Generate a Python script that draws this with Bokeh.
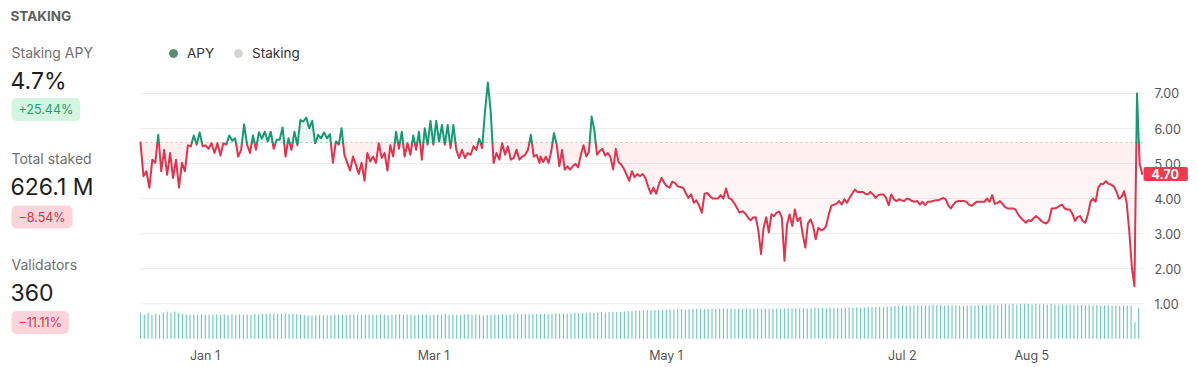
import numpy as np
import pandas as pd
from bokeh.plotting import figure
from bokeh.models import ColumnDataSource, Range1d, Label, Legend, LegendItem
from bokeh.core.properties import value
from bokeh.embed import file_html
from bokeh.resources import INLINE

FONT = "Inter"
GREEN = "#169a72"
RED = "#e3324c"
DAY = 86400000.0

# ---------------- data ----------------
apy_seg1 = [5.60, 4.64, 4.78, 4.31, 5.11, 5.02, 5.82, 4.78, 5.39, 4.68,
            5.30, 4.59, 5.11, 4.31, 5.02, 4.78, 5.52, 5.49, 5.80, 5.54,
            5.89, 5.49, 5.52, 5.42, 5.58, 5.30, 5.58, 5.23, 5.58, 5.54,
            5.80, 5.65, 5.72, 5.20, 5.39, 6.12, 5.54, 5.30, 5.80, 5.39,
            5.89, 5.71, 5.91, 5.63, 5.91, 5.42, 5.68, 5.68, 6.03, 5.20,
            5.72, 5.39, 5.91, 5.52, 6.24, 6.20, 6.31, 6.01, 6.22, 5.58,
            5.82, 5.72, 5.89, 5.72, 5.84, 5.02, 5.63, 5.54]
apy_seg2 = [6.01, 5.25, 5.02, 4.80, 5.20, 4.97, 4.70, 5.02, 4.51, 5.30,
            5.06, 5.20, 5.02, 5.58, 5.16, 5.30, 4.80, 5.52, 5.20, 5.91,
            5.42, 5.91, 5.20, 5.58, 5.25, 5.80, 5.39, 5.91, 5.11, 6.01,
            5.54, 6.22, 5.54, 6.22, 5.63, 6.10, 5.54, 6.10, 5.44, 6.10,
            5.39, 5.16, 5.39, 5.16, 5.30, 5.25, 5.49, 5.39, 5.71, 5.44,
            6.48, 7.31, 6.48, 5.02, 5.30, 5.11, 5.58, 5.25, 5.49, 5.11,
            5.16, 5.39, 5.11, 5.20, 5.25, 5.39, 5.82, 5.20, 5.25, 5.02]
apy_seg3 = [5.20, 5.04, 5.20, 5.02, 5.35, 5.87, 5.54, 4.92, 5.39, 4.83,
            4.92, 4.83, 4.92, 4.99, 4.89, 5.25, 5.52, 5.20, 5.33, 6.34,
            5.96, 5.25, 5.36, 5.42, 5.23, 5.30, 5.18, 4.83, 5.42, 5.04,
            4.97, 4.85, 4.68, 4.51, 4.78, 4.61, 4.70, 4.64, 4.70, 4.59,
            4.35, 4.14, 4.31, 4.14, 4.40, 4.59, 4.45, 4.35, 4.31, 4.48,
            4.45, 4.35, 4.33, 4.31, 4.16, 4.02, 4.12, 3.88, 3.95, 3.79,
            3.60, 4.14, 4.16, 4.07, 4.00, 4.00, 4.00, 4.10, 4.00, 4.29,
            4.02, 3.98, 3.88, 3.74, 3.60]
apy_seg4 = [3.64, 3.57, 3.46, 3.38, 3.46, 3.47, 3.08, 2.42, 3.17, 3.47,
            3.03, 3.55, 3.50, 3.60, 3.63, 3.46, 2.23, 3.27, 3.55, 3.22,
            3.69, 3.36, 3.46, 2.98, 2.60, 3.29, 3.41, 3.22, 2.84, 3.17,
            3.10, 3.12, 3.22, 3.55, 3.79, 3.83, 3.85, 3.93, 3.83, 3.98,
            3.88, 4.02, 4.14, 4.26, 4.19, 4.19, 4.19, 4.14, 4.12, 4.19,
            4.12, 4.02, 4.10, 4.12, 4.12, 4.02, 3.81, 4.12, 3.98, 3.93,
            3.98, 3.95, 3.93, 4.00, 3.98, 3.93, 3.91, 3.93, 3.83, 3.91,
            3.81, 3.91, 3.91, 3.93, 3.95, 3.95]
apy_seg5 = [3.98, 4.02, 3.98, 3.81, 3.72, 3.83, 3.91, 3.93, 3.93, 3.93,
            3.91, 3.83, 3.79, 3.85, 3.91, 3.91, 3.91, 3.91, 4.00, 3.91,
            4.10, 3.85, 3.88, 3.93, 3.85, 3.76, 3.72, 3.72, 3.72, 3.69,
            3.55, 3.46, 3.38, 3.31, 3.38, 3.36, 3.44, 3.50, 3.44, 3.36,
            3.31, 3.29, 3.38, 3.72, 3.72, 3.74, 3.79, 3.83, 3.72, 3.69,
            3.69, 3.57, 3.36, 3.47, 3.50, 3.36, 3.31, 3.55, 3.91, 4.00,
            3.91, 4.31, 4.42, 4.42, 4.50, 4.42, 4.40, 4.35, 4.21, 4.00,
            4.04, 4.21, 3.88, 3.08, 2.04, 1.50, 7.00, 5.00, 4.70]

apy_periods = [
    ("2023-12-15 01:40", "2024-02-05 03:00", apy_seg1),
    ("2024-02-05 20:00", "2024-03-28 19:00", apy_seg2),
    ("2024-03-29 01:30", "2024-05-20 07:00", apy_seg3),
    ("2024-05-21 03:30", "2024-07-11 10:30", apy_seg4),
    ("2024-07-12 01:00", "2024-09-02 23:30", apy_seg5),
]

# total staked (M), one bar per day
staked = [523, 483, 523, 483, 503, 483, 523, 550, 523, 550, 523, 497, 490, 483, 490, 483, 490, 483, 487, 483,
          490, 483, 490, 483, 497, 483, 490, 483, 490, 490, 497, 490, 503, 497, 510, 503, 510, 503, 510, 497,
          503, 497, 490, 476, 470, 463, 470, 476, 476, 470, 476, 483, 490,
          483, 476, 483, 490, 483, 476, 483, 490, 483, 483, 490, 483, 476, 483, 490, 497, 483, 490, 483, 476,
          483, 490, 483, 476, 483, 490, 483, 497, 483, 490, 483, 483, 490, 497, 483, 490, 483, 476, 483, 483,
          490, 483, 497, 483, 490, 497, 503, 497, 510, 503, 497, 503, 497,
          503, 497, 503, 510, 503, 510, 503, 510, 517, 523, 517, 523, 530, 523, 530, 537, 530, 537, 543, 537,
          543, 550, 557, 563, 570, 563, 570, 577, 570, 577, 583, 577, 583, 590, 583, 590, 597, 590, 597, 604,
          597, 604, 597, 604, 611, 604, 604, 611, 604, 611, 604, 611,
          604, 611, 604, 604, 611, 604, 611, 604, 604, 611, 604, 611, 617, 611, 617, 611, 617, 611, 617, 624,
          617, 624, 617, 624, 617, 624, 617, 624, 631, 624, 631, 624, 631, 637, 631, 637, 644, 637, 644, 651,
          658, 664, 671, 664, 671, 677, 671, 677, 671, 677, 684, 677,
          677, 671, 677, 671, 677, 671, 664, 671, 677, 671, 677, 684, 677, 684, 691, 684, 691, 698, 691, 698,
          691, 698, 704, 698, 691, 698, 691, 698, 691, 698, 691, 684, 691, 684, 691, 684, 677, 684, 677, 684,
          671, 677, 671, 677, 671, 664, 671, 664, 671, 664, 658, 335, 626]
staked_start = "2023-12-15 01:40"

x_tick_dates = ["2024-01-01", "2024-03-01", "2024-05-01", "2024-07-02", "2024-08-05"]
y_ticks = [1, 2, 3, 4, 5, 6, 7]

stats = [("Staking APY", "4.7%", "+25.44%", True),
         ("Total staked", "626.1 M", "\u22128.54%", False),
         ("Validators", "360", "\u221211.11%", False)]

# ---------------- layout constants (pixels) ----------------
W, H = 1197, 367
CH_LEFT, CH_RIGHT = 140, 1143      # chart area, horizontal
ZERO_Y = 338.3                      # pixel row of value 0
PX_PER_UNIT = 35.05                 # APY scale
PX_PER_DAY = 3.81
PX_PER_M = 34.0 / 684.0             # staking bar scale

# ---------------- build series ----------------
dates, apy = [], []
for s, e, vals in apy_periods:
    dates.extend(pd.date_range(s, e, periods=len(vals)))
    apy.extend(vals)
x = np.array([d.value / 1e6 for d in dates])
y = np.array(apy, dtype=float)
base = y[0]

sdates = pd.date_range(staked_start, periods=len(staked), freq="D")
sx = np.array([d.value / 1e6 for d in sdates])

MS_PER_PX = DAY / PX_PER_DAY
x_start = x[0] - CH_LEFT * MS_PER_PX
x_end = x_start + W * MS_PER_PX
x_chart_end = x[0] + (CH_RIGHT - CH_LEFT) * MS_PER_PX

# densify with crossing points of the baseline
dx, dy = [x[0]], [y[0]]
for i in range(1, len(y)):
    y0, y1 = y[i - 1], y[i]
    if (y0 - base) * (y1 - base) < 0:
        t = (base - y0) / (y1 - y0)
        dx.append(x[i - 1] + t * (x[i] - x[i - 1]))
        dy.append(base)
    dx.append(x[i])
    dy.append(y1)
dx = np.array(dx)
dy = np.array(dy)

runs = {"up": ([], []), "down": ([], [])}
cur, cx, cy = None, [], []
for i in range(1, len(dx)):
    side = "up" if (dy[i - 1] + dy[i]) / 2 > base else "down"
    if side != cur:
        if cur is not None:
            runs[cur][0].append(cx)
            runs[cur][1].append(cy)
        cur, cx, cy = side, [dx[i - 1]], [dy[i - 1]]
    cx.append(dx[i])
    cy.append(dy[i])
runs[cur][0].append(cx)
runs[cur][1].append(cy)

# ---------------- figure ----------------
p = figure(width=W, height=H, x_axis_type=None, y_axis_type=None,
           x_range=Range1d(x_start, x_end),
           y_range=Range1d(-(H - ZERO_Y) / PX_PER_UNIT, ZERO_Y / PX_PER_UNIT),
           output_backend="svg", toolbar_location=None,
           min_border=0, min_border_left=0, min_border_right=0,
           min_border_top=0, min_border_bottom=0)
p.outline_line_color = None
p.background_fill_color = "white"
p.border_fill_color = "white"
p.grid.visible = False
p.extra_y_ranges = {"stake": Range1d(-(H - ZERO_Y) / PX_PER_M, ZERO_Y / PX_PER_M)}

# gridlines
p.segment(x0=x[0], x1=x_chart_end, y0=y_ticks, y1=y_ticks, line_color="#ececec", line_width=1)

# bars (staking)
p.vbar(x=sx, top=staked, bottom=0, width=0.3 * DAY, y_range_name="stake",
       fill_color="#6ccab9", line_color=None)

# gradient-like fills
below = np.minimum(dy, base)
for k in range(1, 9):
    p.varea(x=dx, y1=np.maximum(below, base - 0.4 * k), y2=base,
            fill_color=RED, fill_alpha=0.013)
above = np.maximum(dy, base)
for k in range(1, 5):
    p.varea(x=dx, y1=np.minimum(above, base + 0.3 * k), y2=base,
            fill_color=GREEN, fill_alpha=0.022)

# dotted reference line (first value)
p.segment(x0=x[0], x1=x_chart_end, y0=base, y1=base, line_color="#c2c2c2",
          line_dash="2 3", line_width=1)

p.multi_line(xs=runs["down"][0], ys=runs["down"][1], line_color=RED, line_width=2,
             line_join="round", line_cap="round")
p.multi_line(xs=runs["up"][0], ys=runs["up"][1], line_color=GREEN, line_width=2,
             line_join="round", line_cap="round")

# y tick labels (right)
p.text(x=[x_chart_end] * len(y_ticks), y=y_ticks, text=[f"{t:.2f}" for t in y_ticks],
       x_offset=11, text_align="left", text_baseline="middle",
       text_font=value(FONT), text_font_size="12.5px", text_color="#555555")

# x tick labels
xt = [pd.Timestamp(d).value / 1e6 for d in x_tick_dates]
xl = [pd.Timestamp(d).strftime("%b ") + str(pd.Timestamp(d).day) for d in x_tick_dates]
p.text(x=xt, y=[0] * len(xt), text=xl, y_offset=17, text_align="center",
       text_baseline="middle", text_font=value(FONT), text_font_size="12.5px",
       text_color="#555555")

# legend: size-0 markers on the latest points, so only the legend swatch is seen
r_apy = p.scatter(x=[x[-1]], y=[y[-1]], size=0, color="#5b8b75")
r_stk = p.scatter(x=[sx[-1]], y=[staked[-1]], size=0, color="#d3d3d3", y_range_name="stake")
legend = Legend(items=[LegendItem(label="APY", renderers=[r_apy]),
                       LegendItem(label="Staking", renderers=[r_stk])],
                location=(163, H - 63), orientation="horizontal",
                glyph_width=20, glyph_height=20, label_height=20,
                label_standoff=4, spacing=14, padding=0, margin=0,
                border_line_alpha=0, background_fill_alpha=0,
                label_text_font=FONT, label_text_font_size="13.5px",
                label_text_color="#333333")
p.add_layout(legend)


# left panel text (screen units, origin bottom-left of canvas)
def lab(text, px, py, size, color, style="normal", **kw):
    p.add_layout(Label(x=px, y=H - py, x_units="screen", y_units="screen",
                       text=text, text_font=FONT, text_font_size=size, text_color=color,
                       text_font_style=style, text_align="left", text_baseline="middle", **kw))


lab("STAKING", 10, 15.5, "13.5px", "#5f5f5f", "bold")
rows_y = [(52, 80, 109), (158, 186, 216.5), (264, 292, 322)]
for (title, big, badge, pos), (ty, by, gy) in zip(stats, rows_y):
    lab(title, 11, ty, "14px", "#707070")
    lab(big, 10, by, "23px", "#1e1e1e")
    lab(badge, 11, gy, "12.5px", "#1fa267" if pos else "#e0304a",
        background_fill_color="#d4f6e1" if pos else "#fdd4db",
        padding=dict(left=7, right=7, top=4, bottom=4), border_radius=5)

# last value tag
p.add_layout(Label(x=CH_RIGHT, x_units="screen", y=y[-1], y_units="data",
                   text=f"{y[-1]:.2f}", text_font=FONT, text_font_size="12.5px",
                   text_font_style="bold", text_color="white",
                   text_align="left", text_baseline="middle",
                   background_fill_color="#ee3a4f",
                   padding=dict(left=8, right=9, top=2, bottom=2), border_radius=2))

open("out.html", "w").write(file_html(p, INLINE))
